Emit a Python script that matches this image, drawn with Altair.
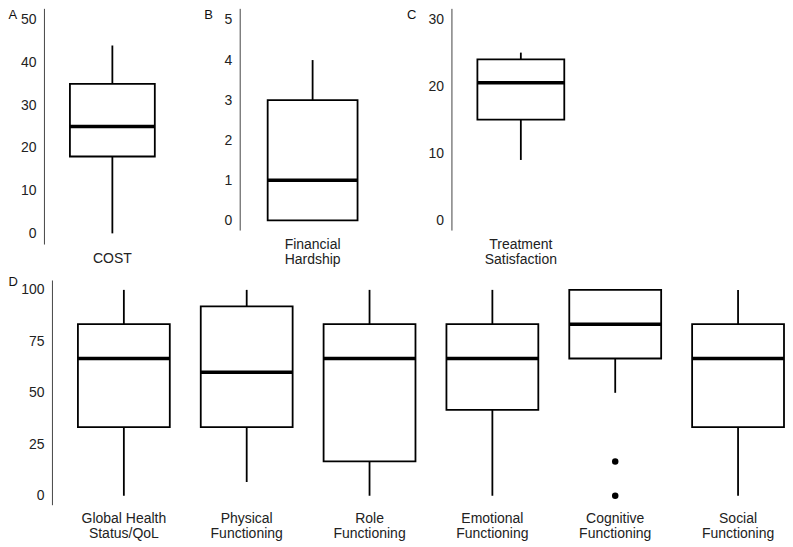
import altair as alt
import pandas as pd

FONT = "Liberation Sans"

# ---------- Panels A-C ----------
top_letters = ["A", "B", "C"]
top_labels = ["COST", "Financial|Hardship", "Treatment|Satisfaction"]
top_min = [0, 0, 9]
top_q1 = [18, 0, 15]
top_median = [25, 1, 20.5]
top_q3 = [35, 3, 24]
top_max = [44, 4, 25]
top_ticks = [[0, 10, 20, 30, 40, 50], [0, 1, 2, 3, 4, 5], [0, 10, 20, 30]]
top_domains = [[-2.5, 52.7], [-0.24, 5.29], [-1.45, 31.6]]

# ---------- Panel D ----------
d_labels = ["Global Health|Status/QoL", "Physical|Functioning", "Role|Functioning",
            "Emotional|Functioning", "Cognitive|Functioning", "Social|Functioning"]
d_min = [0, 6.67, 0, 0, 50, 0]
d_q1 = [33.33, 33.33, 16.67, 41.67, 66.67, 33.33]
d_median = [66.67, 60, 66.67, 66.67, 83.33, 66.67]
d_q3 = [83.33, 92, 83.33, 83.33, 100, 83.33]
d_max = [100, 100, 100, 100, 100, 100]
outlier_labels = ["Cognitive|Functioning", "Cognitive|Functioning"]
outlier_values = [16.67, 0]
d_ticks = [0, 25, 50, 75, 100]
d_domain = [-4.35, 104.8]


def y_axis(ticks, letter, title_x, title_y, offset):
    return alt.Axis(values=ticks, title=letter, titleAngle=0, titleAlign="left",
                    titleBaseline="top", titleX=title_x, titleY=title_y,
                    titleFont=FONT, titleFontSize=13, titleFontWeight="normal",
                    titleColor="#111", grid=False, ticks=False, tickSize=0,
                    labelPadding=8, domainColor="#444", domainWidth=1, offset=offset,
                    labelFont=FONT, labelFontSize=14, labelColor="#222")


def x_axis():
    return alt.Axis(domain=False, ticks=False, tickSize=0, labelAngle=0,
                    labelPadding=7, labelFont=FONT, labelFontSize=14,
                    labelColor="#222", labelLineHeight=15,
                    labelExpr="split(datum.label, '|')")


def panel(df, labels, domain, ticks, letter, title_x, title_y, width, height,
          box_w, x_scale, offset=0, outliers=None):
    x = alt.X("label:N", sort=labels, scale=x_scale, axis=x_axis(), title=None)
    yscale = alt.Scale(domain=domain, nice=False, zero=False)
    base = alt.Chart(df)
    lo = base.mark_rule(color="black", strokeWidth=1.8).encode(
        x=x, y=alt.Y("lo:Q", scale=yscale,
                     axis=y_axis(ticks, letter, title_x, title_y, offset)),
        y2="q1:Q")
    hi = base.mark_rule(color="black", strokeWidth=1.8).encode(
        x=x, y=alt.Y("q3:Q", scale=yscale), y2="hi:Q")
    box = base.mark_bar(fill="white", stroke="black", strokeWidth=1.8, size=box_w).encode(
        x=x, y=alt.Y("q1:Q", scale=yscale), y2="q3:Q")
    med = base.mark_tick(color="black", opacity=1, thickness=3.5, size=box_w).encode(
        x=x, y=alt.Y("med:Q", scale=yscale))
    layers = [lo, hi, box, med]
    if outliers is not None:
        pts = alt.Chart(outliers).mark_circle(color="black", size=42, opacity=1).encode(
            x=x, y=alt.Y("value:Q", scale=yscale))
        layers.append(pts)
    return alt.layer(*layers).properties(width=width, height=height)


widths = [121, 126, 139]
heights = [236, 222, 222]
box_ws = [85, 90, 87]
title_xs = [-36, -36, -45]
offsets = [8, 10, 0]

top_charts = []
for i in range(3):
    df = pd.DataFrame({"label": [top_labels[i]], "lo": [top_min[i]], "q1": [top_q1[i]],
                       "med": [top_median[i]], "q3": [top_q3[i]], "hi": [top_max[i]]})
    top_charts.append(panel(df, [top_labels[i]], top_domains[i], top_ticks[i],
                            top_letters[i], title_xs[i], 0, widths[i], heights[i],
                            box_ws[i], alt.Scale(paddingInner=0, paddingOuter=0),
                            offset=offsets[i]))

d_df = pd.DataFrame({"label": d_labels, "lo": d_min, "q1": d_q1, "med": d_median,
                     "q3": d_q3, "hi": d_max})
out_df = pd.DataFrame({"label": outlier_labels, "value": outlier_values})
d_chart = panel(d_df, d_labels, d_domain, d_ticks, "D", -44, -4, 733, 225, 92,
                alt.Scale(paddingInner=0.252, paddingOuter=0.1057, align=1),
                outliers=out_df)

top_row = alt.hconcat(*top_charts, spacing=31)
chart = alt.concat(top_row, d_chart, columns=1, spacing=10, align="none").properties(
    padding={"left": 0, "top": 0, "right": 0, "bottom": 5}).configure_view(strokeWidth=0)

chart.save("out.html", embed_options={"renderer": "svg", "actions": False})
